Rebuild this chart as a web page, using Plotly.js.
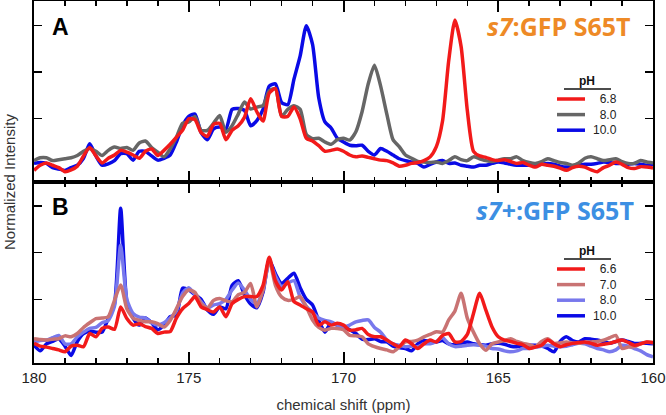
<!DOCTYPE html>
<html>
<head>
<meta charset="utf-8">
<script src="https://cdn.plot.ly/plotly-3.0.1.min.js"></script>
<style>html,body{margin:0;padding:0;background:#fff;}#chart{width:666px;height:415px;}</style>
</head>
<body>
<div id="chart"></div>
<script>
// chemical shift grid (ppm)
const ppm = [
180,179.8,179.6,179.4,179.2,179,178.8,178.6,178.4,178.2,
178,177.8,177.6,177.4,177.2,177,176.8,176.6,176.4,176.2,
176,175.8,175.6,175.4,175.2,175,174.8,174.6,174.4,174.2,
174,173.8,173.6,173.4,173.2,173,172.8,172.6,172.4,172.2,
172,171.8,171.6,171.4,171.2,171,170.8,170.6,170.4,170.2,
170,169.8,169.6,169.4,169.2,169,168.8,168.6,168.4,168.2,
168,167.8,167.6,167.4,167.2,167,166.8,166.6,166.4,166.2,
166,165.8,165.6,165.4,165.2,165,164.8,164.6,164.4,164.2,
164,163.8,163.6,163.4,163.2,163,162.8,162.6,162.4,162.2,
162,161.8,161.6,161.4,161.2,161,160.8,160.6,160.4,160.2,
160];

// Panel A: s7:GFP S65T
const A_pH68 = [
-0.11,0.0,0.05,0.0,-0.05,-0.14,-0.1,-0.02,0.2,0.38,
0.2,0.05,0.15,0.22,0.32,0.28,0.22,0.15,0.3,0.35,
0.21,0.32,0.45,0.6,0.75,1.0,0.98,0.7,0.62,0.88,
0.9,0.55,0.75,0.85,1.03,1.43,1.15,0.95,1.55,1.65,
1.05,1.05,1.25,1.0,0.58,0.52,0.42,0.3,0.32,0.35,
0.3,0.22,0.18,0.2,0.17,0.14,0.11,0.1,0.05,-0.02,
0.0,0.04,0.06,0.1,0.18,0.4,0.95,2.25,3.12,2.55,
1.18,0.3,0.2,0.17,0.12,0.1,0.12,0.08,0.04,0.06,
0.0,-0.04,0.02,0.0,-0.02,-0.06,-0.11,-0.05,-0.02,-0.04,
-0.1,-0.14,-0.05,0.0,0.07,0.02,-0.05,-0.07,-0.03,-0.04,
-0.06];
const A_pH80 = [
0.1,0.16,0.16,0.1,0.12,0.14,0.16,0.21,0.3,0.36,
0.3,0.21,0.32,0.39,0.36,0.38,0.32,0.48,0.52,0.38,
0.28,0.18,0.35,0.6,0.9,0.93,1.05,0.75,0.75,0.9,
1.07,0.71,0.85,1.1,1.36,1.21,1.25,1.28,1.6,1.65,
1.05,1.2,1.28,1.2,0.66,0.57,0.58,0.5,0.45,0.55,
0.58,0.54,0.72,1.15,1.75,2.15,1.7,1.1,0.55,0.4,
0.22,0.15,0.08,0.07,0.06,0.07,0.04,0.1,0.18,0.12,
0.1,0.18,0.14,0.1,0.08,0.11,0.14,0.14,0.18,0.1,
0.06,0.04,0.08,0.14,0.1,0.06,0.04,0.0,0.05,0.15,
0.18,0.14,0.1,0.12,0.14,0.08,0.04,0.04,0.1,0.07,
0.05];
const A_pH100 = [
0.04,0.06,0.04,-0.05,-0.08,-0.11,-0.05,0.0,0.15,0.46,
0.2,0.0,0.03,0.1,0.25,0.25,0.11,0.3,0.3,0.2,
0.11,0.15,0.22,0.5,0.85,1.05,1.1,0.7,0.55,0.78,
0.82,0.78,1.2,1.22,1.18,0.85,0.96,1.2,1.7,1.75,
1.35,1.3,1.85,2.35,3.0,2.6,1.45,0.93,0.8,0.58,
0.5,0.43,0.42,0.43,0.3,0.22,0.36,0.3,0.22,0.14,
0.1,0.07,0.04,-0.04,0.02,0.07,0.1,0.04,0.05,0.0,
-0.02,-0.04,0.0,0.0,0.04,0.07,0.05,0.02,0.0,0.0,
0.0,0.0,0.02,0.04,0.02,-0.02,-0.04,-0.02,0.0,0.02,
0.02,0.04,0.07,0.06,0.04,0.04,0.02,0.04,0.02,0.0,
0.02];

// Panel B: s7+:GFP S65T
const B_pH66 = [
0.06,0.0,-0.02,-0.05,-0.08,-0.12,0.0,0.02,-0.01,0.27,
0.2,0.38,0.41,0.36,0.84,0.59,0.45,0.48,0.42,0.38,
0.27,0.3,0.31,0.6,0.8,0.91,1.06,0.84,0.78,0.73,
0.84,0.63,0.91,1.0,1.06,1.06,1.06,1.3,1.9,1.4,
1.2,1.38,0.95,0.88,0.8,0.73,0.45,0.52,0.45,0.49,
0.45,0.34,0.35,0.38,0.25,0.2,0.2,0.13,0.05,-0.01,
0.13,0.05,-0.05,0.05,0.13,0.09,0.23,0.27,0.09,0.1,
0.25,0.7,1.13,0.77,0.41,0.2,0.13,0.1,0.06,0.03,
-0.05,-0.02,0.02,0.13,0.05,-0.01,0.03,0.06,0.08,0.09,
0.06,0.02,0.04,0.06,0.1,0.13,0.08,0.02,0.05,0.09,
0.08];
const B_pH70 = [
0.16,0.14,0.13,0.15,0.16,0.22,0.2,0.27,0.4,0.5,
0.59,0.6,0.63,0.98,1.31,0.8,0.6,0.55,0.52,0.52,
0.48,0.41,0.55,0.8,1.06,1.2,1.15,0.91,0.81,0.98,
1.02,0.97,0.95,1.1,1.15,1.34,0.84,1.2,1.85,1.3,
1.05,0.98,1.0,1.06,0.84,0.56,0.4,0.34,0.38,0.38,
0.35,0.23,0.22,0.2,0.05,-0.01,-0.05,-0.08,-0.12,-0.02,
0.09,0.1,0.13,0.2,0.25,0.31,0.3,0.56,0.75,1.13,
0.6,0.3,0.05,-0.09,0.05,0.09,0.12,0.16,0.1,0.06,
0.03,-0.01,0.1,0.16,0.06,0.07,0.09,0.07,0.06,0.08,
0.09,0.1,0.13,0.18,0.23,-0.05,-0.02,-0.01,0.05,0.09,
0.07];
const B_pH80 = [
0.09,0.12,0.13,0.18,0.23,0.05,0.05,0.2,0.3,0.38,
0.4,0.5,0.55,0.85,2.16,1.0,0.7,0.62,0.6,0.5,
0.45,0.5,0.6,0.75,1.13,1.25,1.1,0.95,0.81,0.88,
0.91,1.0,1.2,1.35,1.2,1.0,0.92,1.2,1.8,1.5,
1.27,1.35,1.4,1.05,0.85,0.72,0.6,0.55,0.52,0.45,
0.41,0.45,0.52,0.55,0.56,0.4,0.3,0.13,0.05,0.02,
-0.01,0.0,-0.01,0.05,0.05,0.1,0.18,0.05,-0.01,0.0,
0.02,0.03,0.02,0.0,-0.05,-0.06,-0.1,-0.12,-0.1,-0.05,
-0.05,-0.02,0.0,0.02,0.0,-0.01,0.0,0.03,0.06,0.05,
0.0,-0.05,-0.08,-0.12,-0.08,0.02,0.0,-0.05,-0.1,-0.18,
-0.23];
const B_pH100 = [
0.02,-0.1,0.05,0.1,0.16,0.0,-0.2,0.1,0.27,0.32,
0.3,0.3,0.6,0.9,2.95,0.95,0.6,0.45,0.6,0.5,
0.35,0.45,0.63,0.66,1.24,1.2,1.1,1.0,0.77,0.68,
0.84,0.8,1.3,1.4,1.1,0.9,0.82,1.15,1.85,1.55,
1.34,1.45,1.56,1.25,1.0,0.88,0.55,0.3,0.5,0.45,
0.41,0.35,0.27,0.15,0.14,0.16,0.1,0.09,0.0,-0.03,
-0.05,-0.1,0.05,0.12,0.1,0.09,0.12,0.05,0.03,0.06,
0.09,0.05,0.03,0.02,0.05,0.06,0.04,0.0,-0.01,0.01,
0.02,0.02,0.0,-0.05,-0.12,0.1,0.2,0.12,0.09,0.16,
0.15,0.13,0.1,0.06,0.1,0.13,0.1,0.06,0.06,0.06,
0.05];

const labelsA = ['6.8','8.0','10.0'];
const labelsB = ['6.6','7.0','8.0','10.0'];
const xTicks = [180,175,170,165,160];
const yTicks = [1,2,3];

const colorsA = ['#F21A1A','#666666','#0A0AE6'];
const colorsB = ['#F21A1A','#C97373','#7878EC','#0A0AE6'];

// pixel helpers (plot area: x 34..653, y 1..363)
const L = 34, R = 13, T = 1, Bm = 52, W = 666, H = 415;
const pw = W - L - R, ph = H - T - Bm;
const px = p => (p - L) / pw;
const py = p => 1 - (p - T) / ph;

const seriesA = [A_pH68, A_pH80, A_pH100];
const seriesB = [B_pH66, B_pH70, B_pH80, B_pH100];

const traces = [];
// draw order: panel A blue, gray, red
[2,1,0].forEach(i => traces.push({
  x: ppm, y: seriesA[i], type: 'scatter', mode: 'lines', name: 'pH ' + labelsA[i],
  xaxis: 'x2', yaxis: 'y2', showlegend: false,
  line: {color: colorsA[i], width: 3.5, shape: 'spline', smoothing: 0.6}
}));
[3,2,1,0].forEach(i => traces.push({
  x: ppm, y: seriesB[i], type: 'scatter', mode: 'lines', name: 'pH ' + labelsB[i],
  xaxis: 'x', yaxis: 'y', showlegend: false,
  line: {color: colorsB[i], width: 3.5, shape: 'spline', smoothing: 0.6}
}));

const shapes = [];
const annotations = [];
const legFont = 12, rowH = legFont * 1.3;
function legend(labels, colors, titleY, lineY, rowY0) {
  annotations.push({xref:'paper', yref:'paper', x: px(587), y: py(titleY), text:'<b>pH</b>',
    showarrow:false, xanchor:'center', yanchor:'middle', borderpad:0,
    font:{family:'Liberation Sans, Arial', size:12, color:'#111'}});
  shapes.push({type:'line', xref:'paper', yref:'paper', x0: px(564), x1: px(611), y0: py(lineY), y1: py(lineY),
    line:{color:'#111', width:1.5}});
  labels.forEach((lab, i) => {
    const yy = rowY0 + i * rowH;
    shapes.push({type:'line', xref:'paper', yref:'paper', x0: px(557), x1: px(585), y0: py(yy), y1: py(yy),
      line:{color: colors[i], width: 3.5}});
  });
  annotations.push({xref:'paper', yref:'paper', x: px(618), y: py(rowY0 - rowH / 2), text: labels.join('<br>'),
    showarrow:false, xanchor:'right', yanchor:'top', align:'right', borderpad:0,
    font:{family:'Liberation Sans, Arial', size:legFont, color:'#222'}});
}
legend(labelsA, colorsA, 81, 89, 99);
legend(labelsB, colorsB, 251, 259, 269);

annotations.push(
  {xref:'paper', yref:'paper', x: px(60), y: py(27), text:'<b>A</b>', showarrow:false, xanchor:'center', yanchor:'middle',
   font:{family:'Liberation Sans, Arial', size:23, color:'#000'}},
  {xref:'paper', yref:'paper', x: px(60), y: py(207), text:'<b>B</b>', showarrow:false, xanchor:'center', yanchor:'middle',
   font:{family:'Liberation Sans, Arial', size:23, color:'#000'}},
  {xref:'paper', yref:'paper', x: px(633), y: py(26), text:'<b><i>s7</i>:GFP S65T</b>', showarrow:false, xanchor:'right', yanchor:'middle',
   font:{family:'Open Sans, sans-serif', size:25, color:'#EE8A26'}},
  {xref:'paper', yref:'paper', x: px(636), y: py(210), text:'<b><i>s7+</i>:GFP S65T</b>', showarrow:false, xanchor:'right', yanchor:'middle',
   font:{family:'Open Sans, sans-serif', size:25, color:'#3C8FE3'}},
  {xref:'paper', yref:'paper', x: px(9), y: py(182), text:'Normalized Intensity', showarrow:false, textangle:-90,
   xanchor:'center', yanchor:'middle', font:{family:'Liberation Sans, Arial', size:15, color:'#333'}}
);

const xCommon = {
  range: [180, 160], autorange: false, tickvals: xTicks, ticks: 'inside', ticklen: 11, tickwidth: 2, tickcolor: '#000',
  showline: true, linecolor: '#000', linewidth: 2, mirror: 'ticks', showgrid: false, zeroline: false,
  minor: {dtick: 1, tick0: 160, ticks: 'inside', ticklen: 5, tickwidth: 1.5, tickcolor: '#000', showgrid: false}
};
const yCommon = {
  tickvals: yTicks, ticks: 'inside', ticklen: 8, tickwidth: 1.5, tickcolor: '#000', showticklabels: false,
  showline: true, linecolor: '#000', linewidth: 2, mirror: 'ticks', showgrid: false, zeroline: false, autorange: false
};

const layout = {
  width: W, height: H,
  margin: {l: L, r: R, t: T, b: Bm},
  paper_bgcolor: '#fff', plot_bgcolor: '#fff',
  showlegend: false,
  xaxis: Object.assign({}, xCommon, {anchor: 'y', domain: [0, 1], showticklabels: true,
    ticktext: xTicks.map(String),
    tickfont: {family: 'Liberation Sans, Arial', size: 15, color: '#222'},
    title: {text: 'chemical shift (ppm)', standoff: 14, font: {family: 'Liberation Sans, Arial', size: 15, color: '#333'}}}),
  xaxis2: Object.assign({}, xCommon, {anchor: 'y2', domain: [0, 1], showticklabels: false, matches: 'x'}),
  yaxis: Object.assign({}, yCommon, {domain: [0, 0.5], range: [-0.36, 3.51], anchor: 'x'}),
  yaxis2: Object.assign({}, yCommon, {domain: [0.5, 1], range: [-0.36, 3.53], anchor: 'x2'}),
  shapes: shapes,
  annotations: annotations
};

Plotly.newPlot('chart', traces, layout, {displayModeBar: false, staticPlot: true});
</script>
</body>
</html>
